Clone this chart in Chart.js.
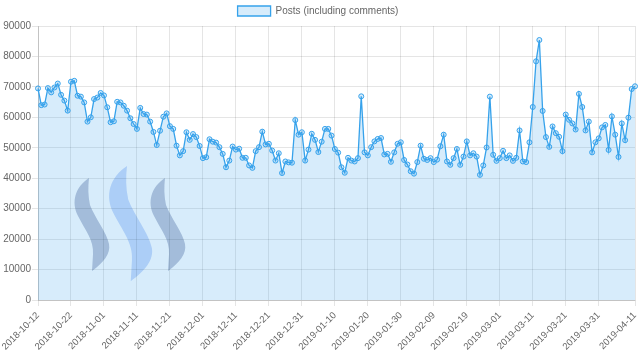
<!DOCTYPE html>
<html>
<head>
<meta charset="utf-8">
<script src="https://cdn.jsdelivr.net/npm/chart.js@4/dist/chart.umd.min.js"></script>
<style>
html,body{margin:0;padding:0;background:#fff;}
canvas{display:block;}
</style>
</head>
<body>
<canvas id="c" width="640" height="361"></canvas>
<script>
// ---- data ----
const startDate = "2018-10-12";
const endDate = "2019-04-11";
const seriesName = "Posts (including comments)";
const posts = [
69500,64000,64200,69600,68200,69800,71100,67400,65500,62200,
71700,72000,67100,66800,64900,58600,60000,66000,66500,68000,
67200,63300,58400,58700,65100,64900,63800,62200,59700,57800,
56200,63100,61100,60900,58600,55200,50900,55600,60200,61300,
57100,56200,50700,47500,48900,55100,52600,54500,53500,50600,
46600,46900,52800,52000,51700,50200,48000,43600,45800,50400,
49400,49700,46700,46700,44200,43400,48900,50200,55300,51100,
51300,49100,45800,48200,41700,45500,45200,45100,59100,54300,
55100,45800,49400,54600,52600,48600,52000,56200,56200,54000,
49600,48400,43600,41800,46700,45800,45500,46600,66900,48500,
47500,50200,52100,52900,53200,47800,48000,45400,48500,51300,
51800,46000,44500,42300,41500,45300,50700,46400,46000,46600,
45300,46100,50500,54300,45500,44400,46600,49600,44400,47100,
52100,47500,48200,47100,41100,44200,50100,66800,47700,45700,
46600,49000,46600,47500,45700,46700,55700,45500,45300,51800,
63400,78400,85400,62100,53500,50300,57000,54800,53600,48900,
60900,59200,58000,56000,67700,63400,55700,58600,48500,51800,
53100,56700,57500,49300,60300,54300,47000,58000,52500,59900,
69300,70200
];
const yTicks = [0,10000,20000,30000,40000,50000,60000,70000,80000,90000];

// category labels: every day from startDate to endDate
const days = [];
(function(){
  const d = new Date(startDate + "T00:00:00Z");
  const e = new Date(endDate + "T00:00:00Z");
  while (d <= e) { days.push(d.toISOString().slice(0,10)); d.setUTCDate(d.getUTCDate()+1); }
})();
const lastIdx = days.length - 1;

// ---- background logo (decoration) ----
function swoosh(ctx, x, y, s, color){
  ctx.save();
  ctx.translate(x, y);
  ctx.scale(s, s);
  ctx.beginPath();
  ctx.moveTo(0,0);
  ctx.bezierCurveTo(-14,9, -18,24, -11,38);
  ctx.bezierCurveTo(-4,52, 5,62, 4,76);
  ctx.lineTo(3,93);
  ctx.bezierCurveTo(14,85, 22,76, 20,66);
  ctx.bezierCurveTo(18,55, 6,40, 1,27);
  ctx.bezierCurveTo(-1,18, -1,9, 0,0);
  ctx.closePath();
  ctx.fillStyle = color;
  ctx.fill();
  ctx.restore();
}
const logoPlugin = {
  id: 'logo',
  beforeDraw(chart){
    const ctx = chart.ctx;
    swoosh(ctx, 89, 178, 1.0, 'rgb(190,196,214)');
    swoosh(ctx, 127, 166, 1.24, 'rgb(202,218,250)');
    swoosh(ctx, 165, 178, 1.0, 'rgb(190,196,214)');
  }
};

Chart.defaults.font.family = "'Liberation Sans', Arial, Helvetica, sans-serif";
Chart.defaults.font.size = 10;
Chart.defaults.color = '#666';

new Chart(document.getElementById('c'), {
  type: 'line',
  data: {
    labels: days,
    datasets: [{
      label: seriesName,
      data: posts,
      borderColor: 'rgb(54,162,235)',
      backgroundColor: 'rgba(54,162,235,0.2)',
      borderWidth: 1.3,
      fill: 'origin',
      tension: 0,
      pointRadius: 2.5,
      pointBorderWidth: 1,
      pointBorderColor: 'rgb(54,162,235)',
      pointBackgroundColor: 'rgba(54,162,235,0.2)'
    }]
  },
  options: {
    responsive: false,
    animation: false,
    devicePixelRatio: 1,
    layout: { padding: { top: 1, right: 4, left: 0, bottom: 0 } },
    plugins: {
      legend: {
        position: 'top',
        labels: { boxWidth: 33, boxHeight: 10, padding: 5, font: { size: 10 }, color: '#666' }
      },
      tooltip: { enabled: false }
    },
    scales: {
      x: {
        type: 'category',
        grid: { color: 'rgba(0,0,0,0.1)', tickLength: 6 },
        border: { color: 'rgba(0,0,0,0.15)' },
        ticks: {
          autoSkip: false,
          maxRotation: 45,
          minRotation: 45,
          padding: 4,
          font: { size: 9.5 },
          callback: function(v, i){ return (i % 10 === 0 && i !== 180) || i === lastIdx ? days[i] : null; }
        },
        afterFit: function(s){ s.height = 61; s.paddingLeft = 0; s.paddingRight = 0; }
      },
      y: {
        min: 0, max: 90000,
        grid: { color: 'rgba(0,0,0,0.1)', tickLength: 6 },
        border: { color: 'rgba(0,0,0,0.15)' },
        afterBuildTicks: function(s){ s.ticks = yTicks.map(v => ({ value: v })); },
        ticks: { padding: 1, callback: function(v){ return String(v); } },
        afterFit: function(s){ s.width = 38; }
      }
    }
  },
  plugins: [logoPlugin]
});
</script>
</body>
</html>
